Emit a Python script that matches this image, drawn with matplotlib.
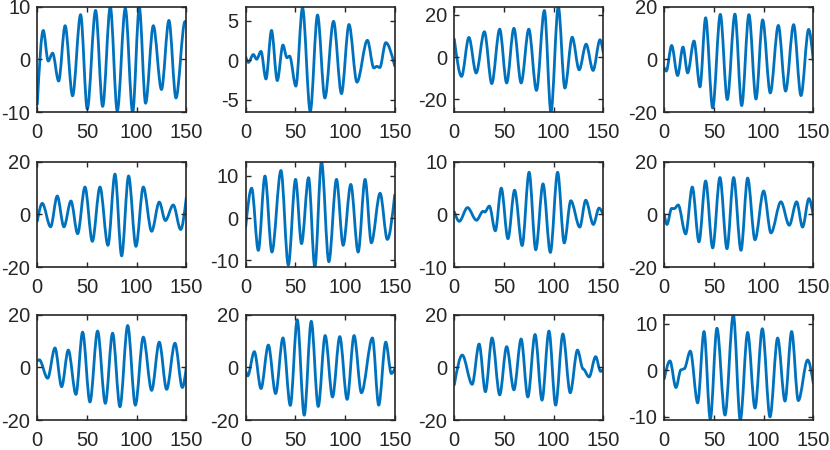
import matplotlib
matplotlib.use("Agg")
import matplotlib.pyplot as plt
from matplotlib.path import Path
from matplotlib.patches import PathPatch

# ---- data: extrema (x, y), per panel ----
P1_X = [0, 6, 11, 15.4, 21.5, 28, 35.5, 43.6, 50.3, 58.7, 65.8, 73.5, 80.5, 88.6, 96, 102.7, 109, 116.8, 125, 132.5, 139.6, 148.7, 150]
P1_Y = [-8.5, 5.5, -0.3, 1.2, -4.1, 6.4, -6.9, 8.5, -9.4, 9.3, -8.9, 10, -9.8, 9.7, -10, 9.9, -8.3, 6.4, -5.7, 7.4, -7.3, 7.2, 7.0]

P2_X = [0, 2.7, 7.7, 11, 15.4, 20.4, 26, 31.8, 37.5, 41.5, 44.2, 50.5, 57.2, 65, 72.3, 79.7, 88.4, 96.4, 104, 112, 122.5, 129, 132, 135, 141, 150]
P2_Y = [0.4, -0.3, 0.7, 0.1, 1.1, -2.4, 3.75, -2.6, 1.9, 0.3, 0.5, -3.3, 6.6, -6.5, 5.7, -4.8, 4.9, -4.25, 4.5, -2.8, 2.5, -1.0, -0.8, -0.95, 2.2, -0.75]

P3_X = [0, 7.3, 14.7, 22, 30.3, 37.7, 45.7, 52.7, 60, 67.3, 75, 82.7, 90.7, 97.3, 104.7, 111.3, 118.7, 125.7, 132.7, 139.7, 146.7, 150]
P3_Y = [8.5, -9.1, 9.3, -7.5, 12, -12.5, 13.2, -12.2, 13.6, -12.2, 13.2, -15.7, 22, -26, 23.8, -14.6, 9.4, -6, 6.1, -6.3, 8.2, 2]

P4_X = [0, 2, 7.4, 13.4, 18.8, 23.5, 29.9, 35.9, 41.6, 48.7, 56.4, 63.4, 71.1, 77.9, 85.2, 92.3, 99, 106.7, 114.8, 122.1, 130.2, 137.6, 145.3, 150]
P4_Y = [-3.2, -4.4, 5.3, -6.1, 4.7, -5.1, 7, -10.4, 15.8, -18.4, 17.1, -15.2, 17.2, -17.5, 17, -15, 15, -12.7, 12.9, -12, 13.2, -13.7, 11.4, -0.6]

P5_X = [0, 5, 13.4, 20.1, 26.8, 33.9, 40.6, 48, 55.4, 63.1, 71.1, 78.2, 84.9, 91.9, 99.3, 106.7, 115.1, 122.8, 128.9, 136.9, 144.3, 150]
P5_Y = [-2.5, 4.2, -4.7, 7, -4.7, 5.1, -7.3, 10.4, -10.2, 10.4, -11.7, 15.3, -15.7, 14.6, -12.1, 10.4, -6.4, 4.7, -2.3, 3.6, -5.7, 6.4]

P6_X = [0, 6, 12.7, 19.4, 26.4, 35.5, 42.9, 50.2, 56.2, 63.3, 69.6, 76.3, 83.7, 91.4, 98.1, 105.8, 113.2, 120.2, 126.5, 135.3, 142.6, 150]
P6_Y = [-2.1, 7.1, -7.7, 10, -8.1, 11.3, -11.2, 9.2, -6.1, 9.6, -11.7, 13.4, -10.4, 9.2, -6.5, 8, -8.1, 9.2, -5.9, 5.9, -5.1, 5.5]

P7_X = [0, 5, 13.3, 22.3, 29, 30.7, 35.3, 41.3, 47.3, 54, 60.7, 68.3, 75.3, 82, 89.3, 96.7, 104, 110.7, 117.3, 126.3, 132.3, 140, 145.7, 150]
P7_Y = [0.5, -1.3, 1.3, -1.1, 0.6, 0.45, 1.6, -3.1, 5, -4.6, 4.6, -5.9, 8, -6.7, 5.8, -7.2, 8, -5.4, 2.6, -2.4, 2.7, -1.9, 1.2, -0.1]

P8_X = [0, 2.7, 7.4, 10, 14, 21.5, 28.2, 34.9, 41.6, 48.7, 56, 63.1, 69.8, 77.2, 83.9, 91.3, 100, 107.4, 117.4, 125.8, 133.2, 139.2, 145.6, 150]
P8_Y = [0, -3.8, 2.3, 2.2, 3.6, -7.4, 10.4, -10.4, 12.7, -12.7, 14, -13, 14, -13.6, 13.8, -9.6, 8.9, -7, 4.8, -4.1, 4.8, -4.8, 6, -0.6]

P9_X = [0, 2, 10.4, 17.8, 24.5, 31.2, 38.9, 45.6, 53, 60.7, 68.5, 75.8, 83.2, 91, 98.7, 106.7, 115.1, 122.8, 130.2, 138.6, 146, 150]
P9_Y = [2.5, 2.9, -4.1, 7.4, -7.3, 6.6, -10.2, 13.4, -13.1, 13.8, -13.6, 13, -14.9, 15.9, -14.3, 11.5, -8.7, 9.6, -8.3, 9.2, -7.6, 0]

P10_X = [0, 2, 8.7, 15.4, 22.8, 30.1, 37.5, 44.9, 51.9, 58.9, 66, 73, 80, 87.4, 94.7, 102.1, 109.1, 116.5, 127.6, 133.9, 141, 146.6, 150]
P10_Y = [-1.3, -3.2, 6, -8, 8.5, -9.9, 11.2, -14.4, 18.1, -18.1, 17.5, -14.8, 12.1, -11.2, 11.7, -12.1, 12.1, -9.6, 11.2, -14.3, 9.6, -2.3, -0.6]

P11_X = [0, 8, 18, 25, 31.3, 38, 45.7, 52.7, 60, 67.3, 74, 81.3, 88.3, 95.3, 102, 109.3, 116.7, 124, 129.7, 135.7, 142.3, 147.3, 150]
P11_Y = [-6.6, 4.7, -6.4, 8.9, -9.2, 11.2, -10.4, 7.9, -8.5, 10.8, -11.2, 12.5, -12.4, 13.8, -14.3, 12.7, -9.6, 6.6, -0.6, -3.6, 4.1, -1.5, -0.6]

P12_X = [0, 5.7, 11.7, 16.8, 20, 26.2, 33.6, 40, 46.3, 53, 61.1, 69.5, 76.5, 83.9, 91.3, 98.7, 106.4, 114.1, 121.5, 128.2, 134.9, 144.3, 150]
P12_Y = [-1.8, 2, -3.7, 0.1, 0.3, 4.1, -7, 8.3, -10.5, 9, -9.6, 11.9, -10.7, 8.1, -8.1, 8.9, -10, 6.9, -6.6, 8.3, -6.5, 2.2, -2.8]

SERIES = [(P1_X, P1_Y), (P2_X, P2_Y), (P3_X, P3_Y), (P4_X, P4_Y),
          (P5_X, P5_Y), (P6_X, P6_Y), (P7_X, P7_Y), (P8_X, P8_Y),
          (P9_X, P9_Y), (P10_X, P10_Y), (P11_X, P11_Y), (P12_X, P12_Y)]

Y_LIMITS = [(-10, 10), (-6.6, 6.75), (-26, 23.8), (-20, 20),
            (-20, 20), (-11.7, 13.4), (-10, 10), (-20, 20),
            (-20, 20), (-20, 20), (-20, 20), (-10.7, 11.9)]
Y_TICKS = [[-10, 0, 10], [-5, 0, 5], [-20, 0, 20], [-20, 0, 20],
           [-20, 0, 20], [-10, 0, 10], [-10, 0, 10], [-20, 0, 20],
           [-20, 0, 20], [-20, 0, 20], [-20, 0, 20], [-10, 0, 10]]
X_TICKS = [0, 50, 100, 150]
X_LIMITS = (0, 150)


def smooth_path(xs, ys):
    """Cubic Bezier through extrema with horizontal tangents at the extrema."""
    verts = [(xs[0], ys[0])]
    codes = [Path.MOVETO]
    n = len(xs)
    for i in range(n - 1):
        x0, y0, x1, y1 = xs[i], ys[i], xs[i + 1], ys[i + 1]
        dx = x1 - x0
        c1y = y0 if i > 0 else y0 + 0.5 * (y1 - y0)
        c2y = y1 if i + 1 < n - 1 else y1 - 0.5 * (y1 - y0)
        verts += [(x0 + dx / 3, c1y), (x1 - dx / 3, c2y), (x1, y1)]
        codes += [Path.CURVE4] * 3
    return Path(verts, codes)


plt.rcParams["font.family"] = ["Liberation Sans", "DejaVu Sans"]
plt.rcParams["axes.unicode_minus"] = False

W, H = 830, 450
fig = plt.figure(figsize=(W / 100, H / 100), dpi=100)

col_left = [37.3, 245.7, 454.3, 664.3]
ax_w = 149
row_top = [6.7, 161.7, 314.7]
ax_h = 105.5

AX_COLOR = "#262626"
LINE_COLOR = "#0072BD"

for idx, (xs, ys) in enumerate(SERIES):
    r, c = divmod(idx, 4)
    left = col_left[c] / W
    bottom = 1 - (row_top[r] + ax_h) / H
    ax = fig.add_axes([left, bottom, ax_w / W, ax_h / H])
    patch = PathPatch(smooth_path(xs, ys), facecolor="none", edgecolor=LINE_COLOR,
                      lw=2.0, transform=ax.transData, capstyle="round", joinstyle="round")
    ax.add_patch(patch)
    ax.set_xlim(*X_LIMITS)
    ax.set_ylim(*Y_LIMITS[idx])
    ax.set_xticks(X_TICKS)
    ax.set_yticks(Y_TICKS[idx])
    ax.tick_params(direction="in", top=True, right=True, length=3.5, width=1.0,
                   labelsize=14.5, colors=AX_COLOR)
    ax.tick_params(axis="x", pad=7.5)
    ax.tick_params(axis="y", pad=5)
    for sp in ax.spines.values():
        sp.set_color(AX_COLOR)
        sp.set_linewidth(1.2)

fig.savefig("out.png", dpi=100)
